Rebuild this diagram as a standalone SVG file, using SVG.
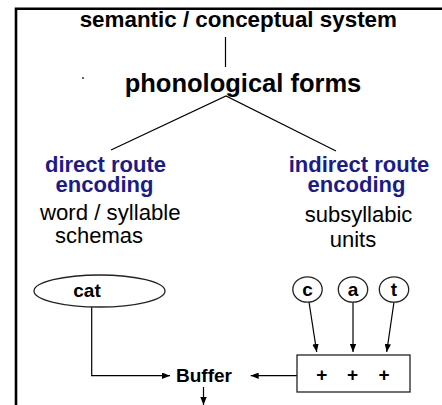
<svg xmlns="http://www.w3.org/2000/svg" width="442" height="405" viewBox="0 0 442 405">
<defs>
<style>
.b{font-family:"Liberation Sans",Arial,sans-serif;font-weight:bold;fill:#000}
.r{font-family:"Liberation Sans",Arial,sans-serif;fill:#000}
.blue{font-family:"Liberation Sans",Arial,sans-serif;font-weight:bold;fill:#1b1b8a}
.ln{stroke:#000;stroke-width:1.2;fill:none}
.sh{stroke:#222;stroke-width:1.3;fill:#fff}
</style>
<marker id="ah" viewBox="0 0 10 8" refX="10" refY="4" markerWidth="8" markerHeight="6.4" markerUnits="userSpaceOnUse" orient="auto">
<path d="M0,0 L10,4 L0,8 z" fill="#000"/>
</marker>
</defs>
<rect width="442" height="405" fill="#fff"/>
<path d="M16,405 V8.7 H442" stroke="#000" stroke-width="2.6" fill="none"/>
<rect x="82" y="77" width="2" height="2" fill="#666"/>
<g id="connectors">
<line class="ln" x1="225.5" y1="37" x2="225.5" y2="67"/>
<polyline class="ln" points="111,150 226,96 336,151"/>
<polyline class="ln" points="91.7,307 91.7,375.7 170,375.7" marker-end="url(#ah)"/>
<line class="ln" x1="297" y1="375.7" x2="250.7" y2="375.7" marker-end="url(#ah)"/>
<line class="ln" x1="203.5" y1="387" x2="203.5" y2="405" marker-end="url(#ah)"/>
<line class="ln" x1="309" y1="302" x2="316.7" y2="352" marker-end="url(#ah)"/>
<line class="ln" x1="353" y1="302" x2="353" y2="352" marker-end="url(#ah)"/>
<line class="ln" x1="394" y1="302" x2="386.7" y2="352" marker-end="url(#ah)"/>
</g>
<g id="semantic"><text class="b" x="238.3" y="27" font-size="22.4" text-anchor="middle">semantic / conceptual system</text></g>
<g id="phonological"><text class="b" x="243" y="91.7" font-size="25.5" text-anchor="middle">phonological forms</text></g>
<g id="direct">
<text class="blue" x="105.5" y="171.7" font-size="22" text-anchor="middle">direct route</text>
<text class="blue" x="104.5" y="191.7" font-size="22" text-anchor="middle">encoding</text>
<text class="r" x="40" y="220" font-size="22.2">word / syllable</text>
<text class="r" x="55" y="243.3" font-size="22">schemas</text>
</g>
<g id="indirect">
<text class="blue" x="359" y="171.7" font-size="22" text-anchor="middle">indirect route</text>
<text class="blue" x="356.5" y="191.7" font-size="22" text-anchor="middle">encoding</text>
<text class="r" x="358.5" y="221.7" font-size="22" text-anchor="middle">subsyllabic</text>
<text class="r" x="353" y="247" font-size="22" text-anchor="middle">units</text>
</g>
<g id="cat">
<ellipse class="sh" cx="99.5" cy="291" rx="65.5" ry="16"/>
<text class="b" x="87" y="297" font-size="19" text-anchor="middle">cat</text>
</g>
<g id="c"><ellipse class="sh" cx="307.5" cy="289.5" rx="14.7" ry="12.7"/><text class="b" x="307.5" y="296" font-size="19" text-anchor="middle">c</text></g>
<g id="a"><ellipse class="sh" cx="353" cy="289.5" rx="14.7" ry="12.7"/><text class="b" x="353" y="296" font-size="19" text-anchor="middle">a</text></g>
<g id="t"><ellipse class="sh" cx="394" cy="289.5" rx="14.7" ry="12.7"/><text class="b" x="394" y="296" font-size="19" text-anchor="middle">t</text></g>
<g id="plusbox">
<rect class="sh" x="297" y="355" width="113" height="37"/>
<text class="b" x="321.7" y="380.5" font-size="19" text-anchor="middle">+</text>
<text class="b" x="352.5" y="380.5" font-size="19" text-anchor="middle">+</text>
<text class="b" x="384" y="380.5" font-size="19" text-anchor="middle">+</text>
</g>
<g id="buffer"><text class="b" x="176" y="382" font-size="19">Buffer</text></g>
</svg>
